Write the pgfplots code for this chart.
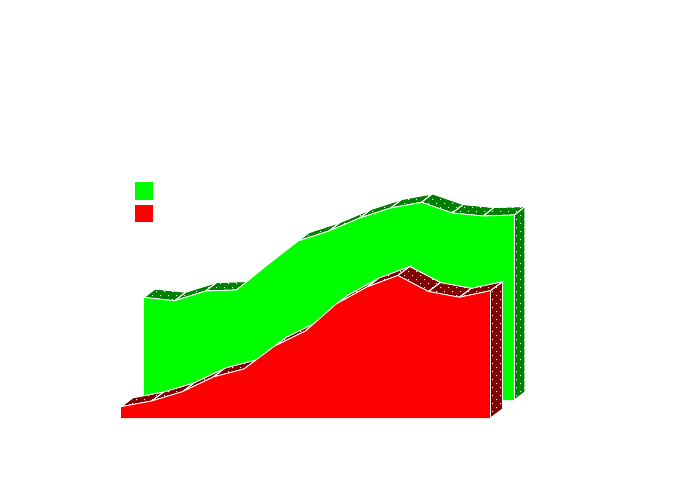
\documentclass[border=0pt]{standalone}
\usepackage{pgfplots}
\pgfplotsset{compat=1.18}
\usetikzlibrary{patterns}
\definecolor{gf}{RGB}{0,255,0}
\definecolor{rf}{RGB}{255,0,0}
\definecolor{gb}{RGB}{0,128,0}
\definecolor{rb}{RGB}{128,0,0}
\pgfdeclarepatternformonly{pdots}{\pgfqpoint{-0.5pt}{-0.5pt}}{\pgfqpoint{7.5pt}{7.5pt}}{\pgfqpoint{8pt}{8pt}}{%
  \pgfpathrectangle{\pgfqpoint{0pt}{0pt}}{\pgfqpoint{1pt}{1pt}}%
  \pgfpathrectangle{\pgfqpoint{4pt}{4pt}}{\pgfqpoint{1pt}{1pt}}%
  \pgfusepath{fill}}
\tikzset{
 gband/.style={draw=white,line width=0.8pt,preaction={fill=gb},pattern=pdots,pattern color=white},
 rband/.style={draw=white,line width=0.8pt,preaction={fill=rb},pattern=pdots,pattern color=white}}
\begin{document}
\begin{tikzpicture}
\begin{axis}[scale only axis,width=680pt,height=480pt,xmin=0,xmax=680,ymin=0,ymax=480,y dir=reverse,axis line style={draw=none},ticks=none,clip=true]
% green top band (front edge to back edge, dx=11, dy=-8.5)
\addplot[gband] coordinates {(144,297.5)(174.8,300.7)(185.8,292.2)(155,289)} -- cycle;
\addplot[gband] coordinates {(174.8,300.7)(205.7,291)(216.7,282.5)(185.8,292.2)} -- cycle;
\addplot[gband] coordinates {(205.7,291)(236.5,290)(247.5,281.5)(216.7,282.5)} -- cycle;
\addplot[gband] coordinates {(236.5,290)(267.3,265)(278.3,256.5)(247.5,281.5)} -- cycle;
\addplot[gband] coordinates {(267.3,265)(298.2,241)(309.2,232.5)(278.3,256.5)} -- cycle;
\addplot[gband] coordinates {(298.2,241)(329,231)(340,222.5)(309.2,232.5)} -- cycle;
\addplot[gband] coordinates {(329,231)(359.8,218)(370.8,209.5)(340,222.5)} -- cycle;
\addplot[gband] coordinates {(359.8,218)(390.7,208)(401.7,199.5)(370.8,209.5)} -- cycle;
\addplot[gband] coordinates {(390.7,208)(421.5,202.3)(432.5,193.8)(401.7,199.5)} -- cycle;
\addplot[gband] coordinates {(421.5,202.3)(452.3,213)(463.3,204.5)(432.5,193.8)} -- cycle;
\addplot[gband] coordinates {(452.3,213)(483.2,216)(494.2,207.5)(463.3,204.5)} -- cycle;
\addplot[gband] coordinates {(483.2,216)(514.5,215)(525.5,206.5)(494.2,207.5)} -- cycle;
% green side
\addplot[gband] coordinates {(514.5,215)(514.5,400)(525,392)(525,206.5)} -- cycle;
% green front
\addplot[fill=gf,draw=none] coordinates {(144,297.5)(174.8,300.7)(205.7,291)(236.5,290)(267.3,265)(298.2,241)(329,231)(359.8,218)(390.7,208)(421.5,202.3)(452.3,213)(483.2,216)(514.5,215)(514.5,400)(144,400)} -- cycle;
\addplot[white,line width=0.8pt] coordinates {(144,297.5)(174.8,300.7)(205.7,291)(236.5,290)(267.3,265)(298.2,241)(329,231)(359.8,218)(390.7,208)(421.5,202.3)(452.3,213)(483.2,216)(514.5,215)(514.5,400)};
% red top band (dx=12, dy=-9)
\addplot[rband] coordinates {(121,406.7)(151.8,401)(163.8,392)(133,397.7)} -- cycle;
\addplot[rband] coordinates {(151.8,401)(182.5,391.7)(194.5,382.7)(163.8,392)} -- cycle;
\addplot[rband] coordinates {(182.5,391.7)(213.3,377)(225.3,368)(194.5,382.7)} -- cycle;
\addplot[rband] coordinates {(213.3,377)(244,369)(256,360)(225.3,368)} -- cycle;
\addplot[rband] coordinates {(244,369)(274.8,346)(286.8,337)(256,360)} -- cycle;
\addplot[rband] coordinates {(274.8,346)(305.5,331)(317.5,322)(286.8,337)} -- cycle;
\addplot[rband] coordinates {(305.5,331)(336.3,304)(348.3,295)(317.5,322)} -- cycle;
\addplot[rband] coordinates {(336.3,304)(367,287)(379,278)(348.3,295)} -- cycle;
\addplot[rband] coordinates {(367,287)(397.8,275.5)(409.8,266.5)(379,278)} -- cycle;
\addplot[rband] coordinates {(397.8,275.5)(428.5,291.5)(440.5,282.5)(409.8,266.5)} -- cycle;
\addplot[rband] coordinates {(428.5,291.5)(459.3,297.3)(471.3,288.3)(440.5,282.5)} -- cycle;
\addplot[rband] coordinates {(459.3,297.3)(490.5,290.7)(502.5,281.7)(471.3,288.3)} -- cycle;
% red side
\addplot[rband] coordinates {(490.5,290.7)(490.5,418)(502.5,409)(502.5,281.7)} -- cycle;
% red front
\addplot[fill=rf,draw=none] coordinates {(121,406.7)(151.8,401)(182.5,391.7)(213.3,377)(244,369)(274.8,346)(305.5,331)(336.3,304)(367,287)(397.8,275.5)(428.5,291.5)(459.3,297.3)(490.5,290.7)(490.5,418)(121,418)} -- cycle;
\addplot[white,line width=0.8pt] coordinates {(121,406.7)(151.8,401)(182.5,391.7)(213.3,377)(244,369)(274.8,346)(305.5,331)(336.3,304)(367,287)(397.8,275.5)(428.5,291.5)(459.3,297.3)(490.5,290.7)(490.5,418)};
% legend swatches
\addplot[fill=gf,draw=none] coordinates {(135,182)(153,182)(153,200)(135,200)} -- cycle;
\addplot[fill=rf,draw=none] coordinates {(135,205)(153,205)(153,222)(135,222)} -- cycle;
\end{axis}
\end{tikzpicture}
\end{document}
